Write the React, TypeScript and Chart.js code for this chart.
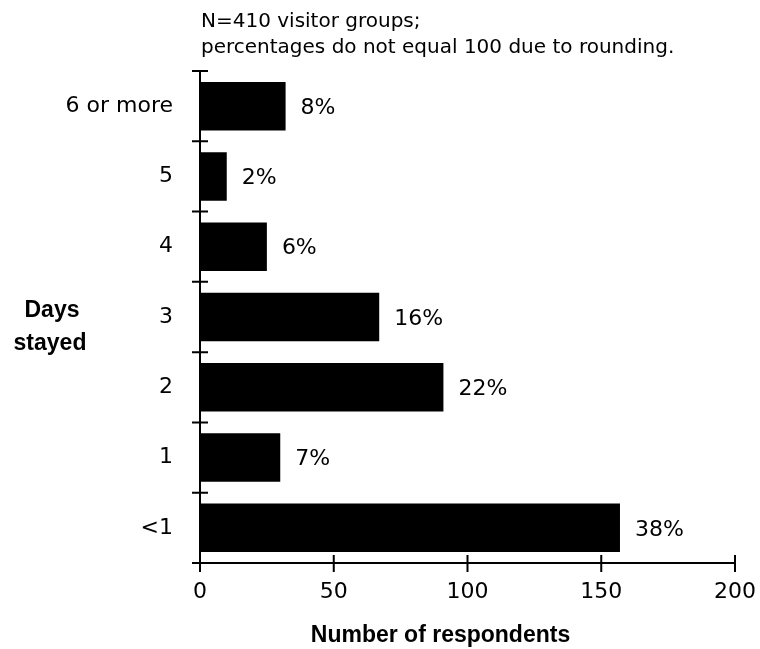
import React, { useEffect, useRef } from "react";
import { Chart, registerables } from "chart.js";

Chart.register(...registerables);

const categories = ["6 or more", "5", "4", "3", "2", "1", "<1"];
const respondents = [32, 10, 25, 67, 91, 30, 157];
const percentLabels = ["8%", "2%", "6%", "16%", "22%", "7%", "38%"];
const xTicks = [0, 50, 100, 150, 200];
const noteLines = ["N=410 visitor groups;", "percentages do not equal 100 due to rounding."];
const yTitleLines = ["Days", "stayed"];
const xTitle = "Number of respondents";

const FONT = "'DejaVu Sans', Verdana, sans-serif";
const BOLD_FONT = "'Liberation Sans', Arial, sans-serif";

const decorPlugin = {
  id: "decor",
  afterDatasetsDraw(chart: any) {
    const ctx = chart.ctx as CanvasRenderingContext2D;
    const { left, right, top, bottom } = chart.chartArea;
    const xs = chart.scales.x;
    ctx.save();
    ctx.strokeStyle = "#000";
    ctx.lineWidth = 2;
    ctx.beginPath();
    ctx.moveTo(left, top);
    ctx.lineTo(left, bottom + 1);
    ctx.moveTo(left - 1, bottom);
    ctx.lineTo(right, bottom);
    const n = categories.length;
    for (let i = 0; i <= n; i++) {
      const y = top + ((bottom - top) * i) / n;
      ctx.moveTo(left - 8, y);
      ctx.lineTo(left + 8, y);
    }
    xTicks.forEach((v) => {
      const x = xs.getPixelForValue(v);
      ctx.moveTo(x, bottom - 8);
      ctx.lineTo(x, bottom + 9);
    });
    ctx.stroke();

    ctx.fillStyle = "#000";
    ctx.font = `22px ${FONT}`;
    ctx.textAlign = "left";
    ctx.textBaseline = "middle";
    const meta = chart.getDatasetMeta(0);
    meta.data.forEach((el: any, i: number) => {
      ctx.fillText(percentLabels[i], el.x + 15, el.y + 2);
    });

    ctx.font = `20px ${FONT}`;
    ctx.textBaseline = "alphabetic";
    ctx.fillText(noteLines[0], left + 1, top - 44);
    ctx.fillText(noteLines[1], left + 1, top - 18);

    ctx.font = `bold 23px ${BOLD_FONT}`;
    ctx.textAlign = "center";
    const midY = (top + bottom) / 2;
    ctx.fillText(yTitleLines[0], left - 148, midY);
    ctx.fillText(yTitleLines[1], left - 150, midY + 33);
    ctx.fillText(xTitle, (left + right) / 2 - 27, bottom + 79);
    ctx.restore();
  },
};

export default function App() {
  const ref = useRef<HTMLCanvasElement | null>(null);
  useEffect(() => {
    if (!ref.current) return;
    const chart = new Chart(ref.current, {
      type: "bar",
      data: {
        labels: categories,
        datasets: [
          {
            data: respondents,
            backgroundColor: "#000",
            borderWidth: 0,
            barPercentage: 0.69,
            categoryPercentage: 1,
          },
        ],
      },
      options: {
        indexAxis: "y",
        responsive: false,
        animation: false,
        layout: { padding: { left: 0, right: 25, top: 71, bottom: 0 } },
        plugins: {
          legend: { display: false },
          tooltip: { enabled: false },
          title: { display: false },
        },
        scales: {
          x: {
            type: "linear",
            min: 0,
            max: 200,
            afterFit: (s: any) => {
              s.height = 86;
              s.paddingLeft = 0;
              s.paddingRight = 0;
            },
            afterBuildTicks: (s: any) => {
              s.ticks = xTicks.map((v) => ({ value: v }));
            },
            grid: { display: false, drawTicks: false },
            border: { display: false },
            ticks: {
              padding: 16,
              color: "#000",
              font: { family: FONT, size: 22 },
              maxRotation: 0,
            },
          },
          y: {
            type: "category",
            afterFit: (s: any) => {
              s.width = 200;
              s.paddingTop = 0;
              s.paddingBottom = 0;
            },
            grid: { display: false, drawTicks: false },
            border: { display: false },
            ticks: {
              padding: 27,
              color: "#000",
              font: { family: FONT, size: 22 },
            },
          },
        },
      },
      plugins: [decorPlugin],
    });
    return () => chart.destroy();
  }, []);
  return (
    <div style={{ position: "absolute", left: 0, top: 0, width: 760, height: 649, background: "#fff" }}>
      <canvas ref={ref} width={760} height={649} style={{ display: "block", width: 760, height: 649 }} />
    </div>
  );
}
